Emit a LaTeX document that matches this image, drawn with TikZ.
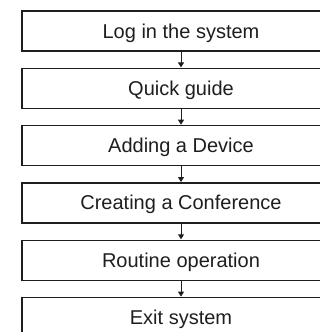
\documentclass[tikz,border=0pt]{standalone}
\usepackage{fontspec}
\setmainfont{Liberation Sans}
\usetikzlibrary{arrows.meta}
\definecolor{ink}{HTML}{1E1E1E}
\tikzset{
  stepbox/.style={draw=ink, line width=1.4pt, rectangle, minimum width=318pt, minimum height=40pt,
    inner sep=0pt, text height=14pt, text depth=0pt, font=\fontsize{20pt}{24pt}\selectfont, text=ink},
  arr/.style={draw=ink, line width=1pt, -{Triangle[width=6pt,length=5pt]}, shorten >=0.2pt}
}
\begin{document}
\begin{tikzpicture}[x=1pt,y=1pt]
\useasboundingbox (0,0) rectangle (320,-332);
\clip (0,0) rectangle (320,-332);
\node[stepbox] (b1) at (181,-31) {Log in the system};
\node[stepbox] (b2) at (181,-88.3) {Quick guide};
\node[stepbox] (b3) at (181,-145.6) {Adding a Device};
\node[stepbox] (b4) at (181,-202.9) {Creating a Conference};
\node[stepbox] (b5) at (181,-260.2) {Routine operation};
\node[stepbox] (b6) at (181,-317.5) {Exit system};
\draw[arr] (b1) -- (b2);
\draw[arr] (b2) -- (b3);
\draw[arr] (b3) -- (b4);
\draw[arr] (b4) -- (b5);
\draw[arr] (b5) -- (b6);
\end{tikzpicture}
\end{document}
